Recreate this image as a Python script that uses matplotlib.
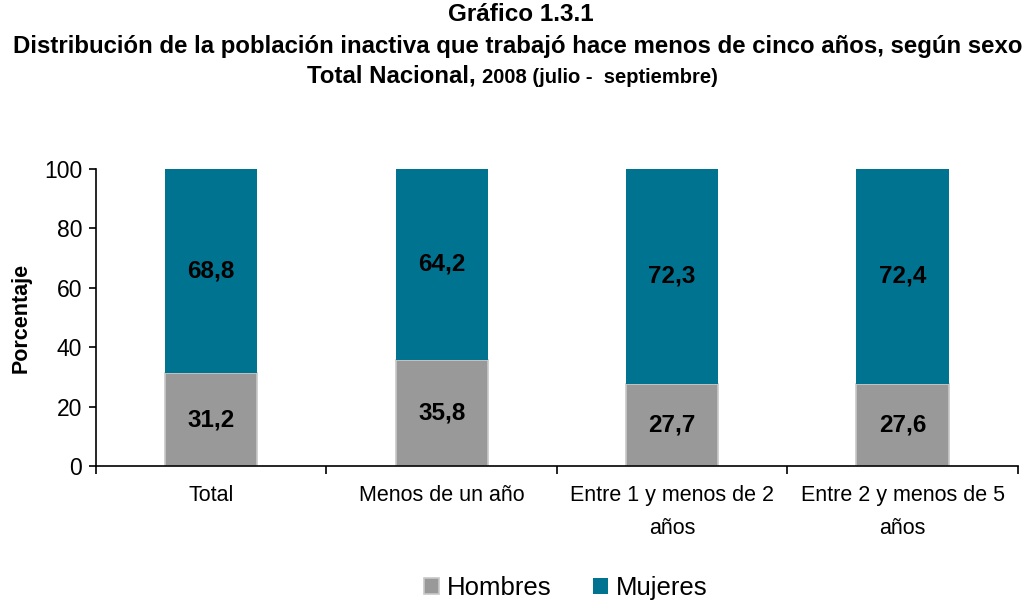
import matplotlib.pyplot as plt
import numpy as np

plt.rcParams['font.family'] = ['Liberation Sans', 'DejaVu Sans']

categorias = ['Total', 'Menos de un año', 'Entre 1 y menos de 2\naños', 'Entre 2 y menos de 5\naños']
hombres = [31.2, 35.8, 27.7, 27.6]
mujeres = [68.8, 64.2, 72.3, 72.4]

gris = '#999999'
azul = '#007390'

fig = plt.figure(figsize=(10.27, 6.01), dpi=100)
ax = fig.add_axes([0.0935, 0.2246, 0.8975, 0.4944])

x = np.arange(len(categorias))
b1 = ax.bar(x, hombres, width=0.4, color=gris, edgecolor='#c8c8c8', linewidth=1.2, label='Hombres')
b2 = ax.bar(x, mujeres, width=0.4, bottom=hombres, color=azul, label='Mujeres')

for i in range(len(categorias)):
    ax.text(x[i], hombres[i] / 2, f"{hombres[i]:.1f}".replace('.', ','), ha='center', va='center',
            fontsize=17.5, fontweight='bold')
    ax.text(x[i], hombres[i] + mujeres[i] / 2, f"{mujeres[i]:.1f}".replace('.', ','), ha='center', va='center',
            fontsize=17.5, fontweight='bold')

ax.set_xlim(-0.5, len(categorias) - 0.5)
ax.set_ylim(0, 100)
ax.set_yticks(range(0, 101, 20))
ax.tick_params(axis='y', labelsize=16.5, direction='out', length=5, width=1.2, pad=5)
ax.set_xticks(np.arange(-0.5, len(categorias), 1))
ax.set_xticklabels([])
ax.set_xticks(x, minor=True)
ax.set_xticklabels(categorias, minor=True, fontsize=15.5, linespacing=1.75)
ax.tick_params(axis='x', which='major', direction='out', length=6, width=1.2)
ax.tick_params(axis='x', which='minor', length=0, pad=14)
for s in ['top', 'right']:
    ax.spines[s].set_visible(False)
for s in ['left', 'bottom']:
    ax.spines[s].set_linewidth(1.2)

ax.set_ylabel('Porcentaje', fontsize=15.5, fontweight='bold', labelpad=9)

fig.text(0.507, 0.976, 'Gráfico 1.3.1', ha='center', va='center', fontsize=17.5, fontweight='bold')
fig.text(0.504, 0.923, 'Distribución de la población inactiva que trabajó hace menos de cinco años, según sexo',
         ha='center', va='center', fontsize=17.3, fontweight='bold')
fig.text(0.4635, 0.874, 'Total Nacional,', ha='right', va='center', fontsize=17.3, fontweight='bold')
fig.text(0.469, 0.871, '2008 (julio -  septiembre)', ha='left', va='center', fontsize=14.5, fontweight='bold')

fig.legend(handles=[b1, b2], loc='center', bbox_to_anchor=(0.551, 0.021), ncol=2, frameon=False,
           fontsize=18.5, handlelength=0.6, handleheight=0.6, handletextpad=0.3, columnspacing=1.6)

fig.savefig('out.png', dpi=100)
